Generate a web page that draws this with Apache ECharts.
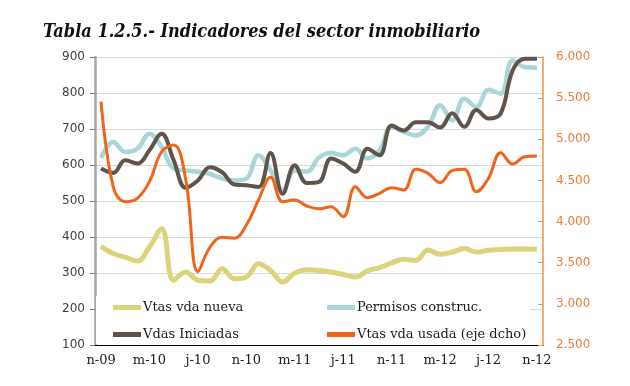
<!DOCTYPE html>
<html>
<head>
<meta charset="utf-8">
<script src="https://cdn.jsdelivr.net/npm/echarts@6/dist/echarts.min.js"></script>
<style>html,body{margin:0;padding:0;background:#fff;}#c{width:630px;height:386px;}</style>
</head>
<body>
<div id="c"></div>
<script>
var titleText = 'Tabla 1.2.5.- Indicadores del sector inmobiliario';
var months = ['nov-09','dic-09','ene-10','feb-10','mar-10','abr-10','may-10','jun-10','jul-10','ago-10','sep-10','oct-10',
  'nov-10','dic-10','ene-11','feb-11','mar-11','abr-11','may-11','jun-11','jul-11','ago-11','sep-11','oct-11',
  'nov-11','dic-11','ene-12','feb-12','mar-12','abr-12','may-12','jun-12','jul-12','ago-12','sep-12','oct-12','nov-12'];
var seriesNames = ['Vtas vda nueva','Permisos construc.','Vdas Iniciadas','Vtas vda usada (eje dcho)'];
var vtasNueva = [374,354,344,333,372,423,280,303,280,278,312,284,289,326,307,275,300,309,307,303,296,289,306,315,328,338,335,364,352,358,368,358,363,365,367,367,366];
var permisos = [620,664,636,645,687,650,590,585,581,575,562,557,562,627,585,530,585,581,621,633,627,645,618,641,706,692,682,706,766,724,784,761,809,798,891,872,870];
var iniciadas = [590,578,613,604,641,687,613,537,557,594,580,546,544,539,633,520,599,550,553,618,604,581,645,627,710,696,719,719,704,744,706,753,729,743,863,895,895];
var vtasUsada = [5457,4424,4242,4283,4485,4849,4930,4505,3391,3690,3809,3797,3958,4262,4538,4242,4262,4189,4155,4181,4059,4424,4290,4343,4412,4384,4635,4586,4473,4619,4635,4363,4526,4837,4700,4789,4797];
var leftTicks = {min:100, max:900, step:100};
var rightTicks = {min:2500, max:6000, step:500};

var colors = ['#DCD47C','#AAD6DA','#5E544A','#F2641A'];
var widths = [5,4.5,4,3];
var dataArr = [vtasNueva, permisos, iniciadas, vtasUsada];

var chart = echarts.init(document.getElementById('c'));
var series = seriesNames.map(function(n,i){
  return {
    name:n, type:'line', data:dataArr[i], yAxisIndex: i===3?1:0,
    smooth:0.4, symbol:'none', z: 3+i,
    lineStyle:{color:colors[i], width:widths[i]}, itemStyle:{color:colors[i]}
  };
});
var legendPos = [[113,300],[327,300],[113,327],[327,327]];
var legends = seriesNames.map(function(n,i){
  return {
    data:[{name:n, icon:'rect'}], left:legendPos[i][0], top:legendPos[i][1], padding:0,
    itemWidth:28, itemHeight:5, itemGap:0, z:10, selectedMode:false,
    textStyle:{fontFamily:'DejaVu Serif', fontSize:13, color:'#1a1a1a', lineHeight:15, padding:[0,0,0,-3]}
  };
});
chart.setOption({
  animation:false,
  title:{text:titleText, left:43, top:23, padding:0,
    textStyle:{fontFamily:'DejaVu Serif Condensed', fontStyle:'italic', fontWeight:'bold', fontSize:18, color:'#111'}},
  grid:{left:95, right:87, top:57, bottom:41, containLabel:false},
  legend:legends,
  graphic:[{type:'rect', shape:{x:96, y:296, width:434, height:48}, style:{fill:'#fff'}, z:1}],
  xAxis:{type:'category', data:months, boundaryGap:true,
    axisLine:{lineStyle:{color:'#000', width:1}},
    axisTick:{interval:3, length:5, lineStyle:{color:'#000'}},
    axisLabel:{interval:3, margin:9, fontFamily:'DejaVu Serif', fontSize:13, color:'#222',
      formatter:function(v){return v.charAt(0)+v.slice(3);}},
    splitLine:{show:false}},
  yAxis:[
    {type:'value', min:leftTicks.min, max:leftTicks.max, interval:leftTicks.step,
     axisLine:{show:true, lineStyle:{color:'#A6A6A6', width:2.5}},
     axisTick:{show:true, length:5, lineStyle:{color:'#777'}},
     axisLabel:{margin:10, fontFamily:'DejaVu Sans', fontSize:12, color:'#404040'},
     splitLine:{show:true, lineStyle:{color:'#D9D9D9', width:1}}},
    {type:'value', position:'right', min:rightTicks.min, max:rightTicks.max, interval:rightTicks.step,
     axisLine:{show:true, lineStyle:{color:'#E8944E', width:1.5}},
     axisTick:{show:true, inside:true, length:5, lineStyle:{color:'#E8944E'}},
     axisLabel:{margin:13, fontFamily:'DejaVu Sans', fontSize:12, color:'#EC7E36',
       formatter:function(v){return String(v).replace(/\B(?=(\d{3})+(?!\d))/g,'.');}},
     splitLine:{show:false}}
  ],
  series:series
});
</script>
</body>
</html>
